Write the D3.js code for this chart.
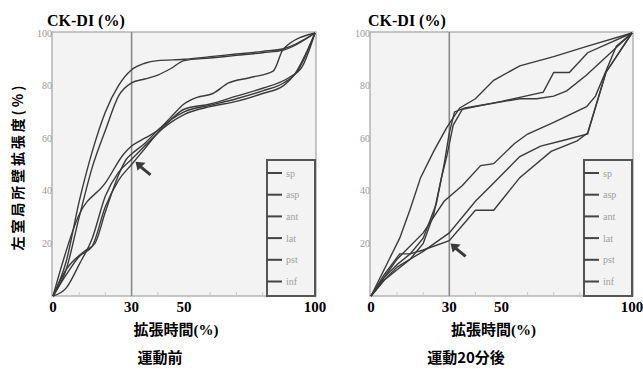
<!DOCTYPE html>
<html>
<head>
<meta charset="utf-8">
<script src="https://cdn.jsdelivr.net/npm/d3@7"></script>
<style>
  body { margin: 0; background: #fff; }
  svg { display: block; }
</style>
</head>
<body>
<svg id="chart" width="643" height="369"></svg>
<script>
// tick labels and legend
const xTicks = [0, 30, 50, 100];
const xMinorTicks = [10, 20, 40, 60, 70, 80, 90];
const yTicks = [20, 40, 60, 80, 100];
const segLabels = ["sp", "asp", "ant", "lat", "pst", "inf"];
const refTime = 30;

// 運動前 : [拡張時間 %, 拡張度 %]
const preSp = [[0,0],[5,13],[10,36],[15,55],[20,70],[25,80],[30,86],[35,88.5],[40,89.5],[50,90],[60,91],[70,92],[80,93],[88,94],[100,100]];
const preAsp = [[0,0],[5,10],[10,30],[15,49],[20,63],[25,76],[30,81],[35,82.5],[40,84],[45,86.5],[50,89.5],[60,90.5],[70,91.5],[80,92.5],[88,93.5],[100,100]];
const preAnt = [[0,0],[10,31],[20,43],[27,54],[30,57],[35,60],[40,63],[45,68],[50,73],[55,75.5],[61,77],[67,81],[75,83],[84,85.5],[88,94],[100,100]];
const preLat = [[0,0],[5,10],[12,17],[16,20],[20,32],[25,46],[28,52],[30,54],[35,58],[40,63],[45,67],[50,70],[60,72.5],[70,75],[80,78],[88,81],[93,85],[100,100]];
const prePst = [[0,0],[5,8],[10,15],[15,19],[20,34],[25,44],[30,50],[35,56],[40,62],[45,66],[50,69],[60,72],[70,74],[80,77],[88,80],[92,84],[100,100]];
const preInf = [[0,0],[5,3],[10,12],[15,22],[20,38],[25,47],[30,52],[35,57],[40,62],[45,67],[50,71],[60,73],[70,76],[80,79],[90,83],[95,87],[100,100]];

// 運動20分後
const postSp = [[0,0],[5,10],[11,22],[15,33],[19,45],[24,55],[29,64],[34,71.5],[40,75],[47,82],[57,87.5],[70,91],[83,95],[100,100]];
const postAsp = [[0,0],[5,6],[10,10],[15,14],[20,20],[24,31],[27,45],[29,53],[31.5,65],[35,71],[40,72],[50,74],[57,75.5],[66,77.5],[70,85],[76,85],[83,92.5],[100,100]];
const postAnt = [[0,0],[5,7],[10,12],[15,16],[20,22],[25,35],[28,50],[30,62],[32,70],[36,71.5],[45,73],[57,75],[63.5,75],[70,76],[75,78],[82.6,84],[100,100]];
const postLat = [[0,0],[5,7],[10,14],[20,24],[28,36],[35,42],[42,49.6],[47,50.3],[55,58],[60,61.6],[70,66],[82.6,72],[86,76],[94,95],[100,100]];
const postPst = [[0,0],[5,6],[10,11],[20,17],[30,24],[40,36],[47,43],[57,53],[65,57],[75,59.5],[83,61.6],[90,85],[100,100]];
const postInf = [[0,0],[5,8],[11,16],[15,16],[20,17.5],[30,21],[40,32.6],[47,32.6],[57,45],[69,55],[79,59],[83,62],[90,85],[100,100]];

const svg = d3.select("#chart");
const serif = "'Liberation Serif', 'DejaVu Serif', serif";
const cjk = "'Noto Sans CJK JP', 'Noto Sans', sans-serif";

/**
 * Draws one panel
 * @param {*} left, right: pixel range of the x axis
 * @param {*} series: the six curves
 * @param {*} curve: d3 curve factory for the lines
 * @param {*} arrowAt: [x, y] the arrow points to
 */
function drawPanel(left, right, series, curve, arrowAt, caption, captionX, titleX) {
  const x = d3.scaleLinear().domain([0, 100]).range([left, right]);
  const y = d3.scaleLinear().domain([0, 100]).range([296, 33]);
  const g = svg.append("g");

  g.append("rect")
    .attr("x", x(0) - 1)
    .attr("y", y(100) - 1)
    .attr("width", x(100) - x(0) + 2)
    .attr("height", y(0) - y(100) + 1)
    .style("fill", "#f3f3f3")
    .style("stroke", "#b4b4b4")
    .style("stroke-width", 1.5);

  g.selectAll(".minor")
    .data(xMinorTicks)
    .join("line")
    .attr("x1", (d) => x(d))
    .attr("x2", (d) => x(d))
    .attr("y1", y(0))
    .attr("y2", y(0) - 4)
    .style("stroke", "#c8c8c8");

  g.append("line")
    .attr("x1", x(refTime))
    .attr("x2", x(refTime))
    .attr("y1", y(100) - 1)
    .attr("y2", y(0))
    .style("stroke", "#8a8a8a")
    .style("stroke-width", 1.6);

  // y tick labels, grey and small
  g.selectAll(".ylab")
    .data(yTicks)
    .join("text")
    .attr("x", x(0) - 1)
    .attr("y", (d) => y(d) + 3.5)
    .attr("text-anchor", "end")
    .style("font-family", serif)
    .style("font-size", "10px")
    .style("fill", "#9a9a9a")
    .text((d) => d);

  g.selectAll(".xlab")
    .data(xTicks)
    .join("text")
    .attr("x", (d) => x(d))
    .attr("y", 312)
    .attr("text-anchor", "middle")
    .style("font-family", serif)
    .style("font-weight", "bold")
    .style("font-size", "15px")
    .text((d) => d);

  const line = d3
    .line()
    .x((d) => x(d[0]))
    .y((d) => y(d[1]))
    .curve(curve);

  g.selectAll(".curve")
    .data(series)
    .join("path")
    .attr("d", line)
    .style("fill", "none")
    .style("stroke", "#3a3a3a")
    .style("stroke-width", 1.4);

  // legend
  const lx = x(100) - 48;
  const ly = 160;
  g.append("rect")
    .attr("x", lx)
    .attr("y", ly)
    .attr("width", x(100) - lx)
    .attr("height", y(0) - ly)
    .style("fill", "#f3f3f3")
    .style("stroke", "#555")
    .style("stroke-width", 2);

  segLabels.forEach((lab, i) => {
    const yy = ly + 13 + i * 21.7;
    g.append("line")
      .attr("x1", lx)
      .attr("x2", lx + 15)
      .attr("y1", yy)
      .attr("y2", yy)
      .style("stroke", "#444")
      .style("stroke-width", 2);
    g.append("text")
      .attr("x", lx + 19)
      .attr("y", yy + 3.5)
      .style("font-family", serif)
      .style("font-size", "10px")
      .style("fill", "#a0a0a0")
      .text(lab);
  });

  // arrow
  const ax = x(arrowAt[0]);
  const ay = y(arrowAt[1]);
  g.append("line")
    .attr("x1", ax + 4)
    .attr("y1", ay + 4)
    .attr("x2", ax + 15)
    .attr("y2", ay + 13)
    .style("stroke", "#3a3a3a")
    .style("stroke-width", 3);
  g.append("path")
    .attr("d", `M${ax},${ay} l10,1 l-8,8 z`)
    .style("fill", "#3a3a3a");

  g.append("text")
    .attr("x", titleX)
    .attr("y", 26)
    .style("font-family", serif)
    .style("font-weight", "bold")
    .style("font-size", "16px")
    .text("CK-DI (%)");

  const xt = g.append("text")
    .attr("x", (x(0) + x(100)) / 2 - 8)
    .attr("y", 335)
    .attr("text-anchor", "middle")
    .style("font-weight", "bold")
    .style("font-size", "15px");
  xt.append("tspan").style("font-family", cjk).text("拡張時間");
  xt.append("tspan").style("font-family", serif).text("(%)");

  g.append("text")
    .attr("x", captionX)
    .attr("y", 363)
    .attr("text-anchor", "middle")
    .style("font-family", cjk)
    .style("font-weight", "bold")
    .style("font-size", "15px")
    .text(caption);
}

drawPanel(53, 315, [preSp, preAsp, preAnt, preLat, prePst, preInf], d3.curveMonotoneX, [31.5, 51], "運動前", 160, 47);
drawPanel(371, 632, [postSp, postAsp, postAnt, postLat, postPst, postInf], d3.curveLinear, [30.5, 20], "運動20分後", 466, 368);

// shared y title
svg.append("text")
  .attr("transform", "translate(23,168) rotate(-90)")
  .attr("text-anchor", "middle")
  .attr("textLength", 165)
  .attr("lengthAdjust", "spacing")
  .style("font-family", cjk)
  .style("font-weight", "bold")
  .style("font-size", "14px")
  .text("左室局所壁拡張度(%)");
</script>
</body>
</html>
